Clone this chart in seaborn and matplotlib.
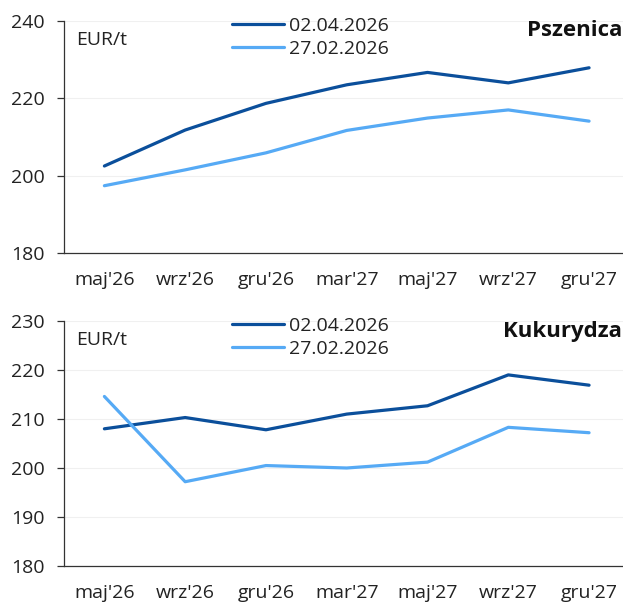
import matplotlib
matplotlib.use("Agg")
import matplotlib.pyplot as plt
import seaborn as sns
import pandas as pd
import numpy as np

categories = ["maj'26", "wrz'26", "gru'26", "mar'27", "maj'27", "wrz'27", "gru'27"]
series_names = ["02.04.2026", "27.02.2026"]
wheat_new = [202.5, 211.8, 218.7, 223.5, 226.7, 224.0, 227.9]
wheat_old = [197.4, 201.5, 205.9, 211.7, 214.9, 217.0, 214.1]
corn_new = [208.0, 210.3, 207.8, 211.0, 212.7, 219.0, 216.9]
corn_old = [214.6, 197.2, 200.5, 200.0, 201.2, 208.3, 207.2]
titles = ["Pszenica", "Kukurydza"]
unit = "EUR/t"
wheat_yticks = [180, 200, 220, 240]
corn_yticks = [180, 190, 200, 210, 220, 230]

sns.set_theme(style="white")
plt.rcParams['font.family'] = ['Open Sans', 'DejaVu Sans']

colors = {series_names[0]: "#0b4f9b", series_names[1]: "#56aaf5"}

fig = plt.figure(figsize=(6.23, 6.02), dpi=100)
W, H = 623, 602
ax1 = fig.add_axes([64 / W, (H - 253) / H, (W - 64) / W, 232 / H])
ax2 = fig.add_axes([64 / W, (H - 566) / H, (W - 64) / W, 245 / H])

def make_df(new, old):
    rows = []
    for i, c in enumerate(categories):
        rows.append({"x": i, "cat": c, "val": new[i], "series": series_names[0]})
        rows.append({"x": i, "cat": c, "val": old[i], "series": series_names[1]})
    return pd.DataFrame(rows)

panels = [
    (ax1, make_df(wheat_new, wheat_old), wheat_yticks, titles[0], 232),
    (ax2, make_df(corn_new, corn_old), corn_yticks, titles[1], 245),
]

fs = 14
for ax, df, yt, title, hpx in panels:
    sns.lineplot(data=df, x="x", y="val", hue="series", palette=colors,
                 hue_order=series_names, linewidth=2.3, ax=ax)
    ax.set_xlim(-0.5, 6.42)
    ax.set_ylim(yt[0], yt[-1])
    ax.set_yticks(yt)
    ax.set_xticks(np.arange(len(categories)))
    ax.set_xticklabels(categories, fontsize=fs, color="#222222")
    ax.set_xticks(np.arange(len(categories)) - 0.5, minor=True)
    ax.tick_params(axis="x", which="major", length=0, pad=13)
    ax.tick_params(axis="x", which="minor", length=6, width=0.9, color="#333333", direction="out")
    ax.tick_params(axis="y", length=5, width=0.9, color="#333333", direction="out",
                   labelsize=fs, labelcolor="#222222", pad=9, left=True)
    ax.set_xlabel("")
    ax.set_ylabel("")
    for s in ["top", "right"]:
        ax.spines[s].set_visible(False)
    for s in ["left", "bottom"]:
        ax.spines[s].set_color("#333333")
        ax.spines[s].set_linewidth(0.9)
    ax.grid(axis="y", color="#f0f0f0", linewidth=0.8)
    ax.set_axisbelow(True)
    ax.text(12 / 559, 1 - 19 / hpx, unit, transform=ax.transAxes, fontsize=fs,
            color="#222222", va="center", ha="left")
    ax.text(0.998, 1 - 10 / hpx, title, transform=ax.transAxes, fontsize=16,
            fontweight="bold", color="#111111", va="center", ha="right")
    leg = ax.legend(loc="upper left", bbox_to_anchor=(0.30, 1 + 4 / hpx), frameon=False,
                    fontsize=fs, handlelength=2.7, handletextpad=0.25,
                    labelspacing=0.25, borderaxespad=0, borderpad=0)
    for t in leg.get_texts():
        t.set_color("#222222")

fig.savefig("out.png", dpi=100)
